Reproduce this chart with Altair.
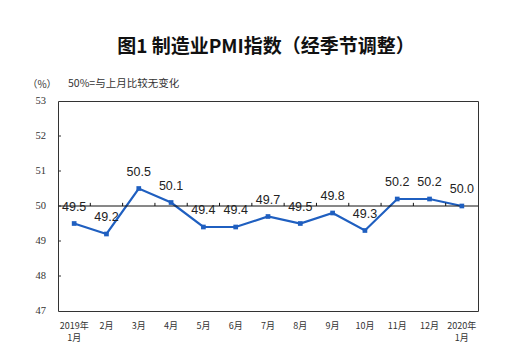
import altair as alt
import pandas as pd

months = ["2019年|1月", "2月", "3月", "4月", "5月", "6月", "7月", "8月", "9月",
          "10月", "11月", "12月", "2020年|1月"]
pmi = [49.5, 49.2, 50.5, 50.1, 49.4, 49.4, 49.7, 49.5, 49.8, 49.3, 50.2, 50.2, 50.0]
y_ticks = [47, 48, 49, 50, 51, 52, 53]
title_text = "图1  制造业PMI指数（经季节调整）"
unit_text = "（%）"
note_text = "50%=与上月比较无变化"

df = pd.DataFrame({"month": months, "pmi": pmi, "label": [f"{v:.1f}" for v in pmi]})
bound_df = pd.DataFrame({"month": months[1:]})
ytick_df = pd.DataFrame({"pmi": y_ticks[1:-1]})
ylab_df = pd.DataFrame({"pmi": y_ticks, "lab": [str(v) for v in y_ticks]})

W, H = 420, 210
xsc = alt.X("month:N", sort=months, scale=alt.Scale(domain=months, paddingInner=0, paddingOuter=0),
            axis=alt.Axis(title=None, labelAngle=0, ticks=False, domain=False,
                          labelExpr="split(datum.label, '|')", labelFont="Noto Sans CJK SC",
                          labelFontSize=9, labelColor="#333", labelPadding=10,
                          labelLineHeight=12))
xs = alt.X("month:N", sort=months)
ysc = alt.Y("pmi:Q", scale=alt.Scale(domain=[47, 53], nice=False, zero=False),
            axis=alt.Axis(title=None, grid=False, ticks=False, domain=False, labels=False))

base = alt.Chart(df)

line = base.mark_line(color="#1f5fc0", strokeWidth=2.2).encode(x=xsc, y=ysc)
pts = base.mark_square(color="#1f5fc0", size=22, opacity=1).encode(x=xs, y="pmi:Q")
labels = base.mark_text(dy=-17, font="Liberation Sans", fontSize=12.5, color="#222").encode(
    x=xs, y="pmi:Q", text="label:N")

ref = alt.Chart(pd.DataFrame({"pmi": [50]})).mark_rule(color="#111", strokeWidth=1).encode(
    y=alt.Y("pmi:Q"))

bticks = alt.Chart(bound_df).mark_rule(color="#111", strokeWidth=1).encode(
    x=alt.X("month:N", sort=months, bandPosition=0),
    y=alt.datum(50), y2=alt.datum(50.09))

yticks = alt.Chart(ytick_df).mark_rule(color="#333", strokeWidth=1).encode(
    y=alt.Y("pmi:Q"), x=alt.value(0), x2=alt.value(3))

ylabels = alt.Chart(ylab_df).mark_text(
    font="Liberation Serif", fontSize=10.5, color="#333", align="right", baseline="middle").encode(
    y=alt.Y("pmi:Q"), x=alt.value(-12), text="lab:N")

title = alt.Chart(pd.DataFrame({"t": [title_text]})).mark_text(
    font="Noto Sans CJK SC", fontSize=19, fontWeight="bold", color="#111",
    align="center", baseline="middle").encode(text="t:N", x=alt.value(W / 2 - 2), y=alt.value(-54))
unit = alt.Chart(pd.DataFrame({"t": [unit_text]})).mark_text(
    font="Noto Sans CJK SC", fontSize=10, color="#333", align="center",
    baseline="middle").encode(text="t:N", x=alt.value(-16), y=alt.value(-16))
note = alt.Chart(pd.DataFrame({"t": [note_text]})).mark_text(
    font="Noto Sans CJK SC", fontSize=10.5, color="#333", align="left",
    baseline="middle").encode(text="t:N", x=alt.value(10), y=alt.value(-17))

chart = alt.layer(line, ref, bticks, yticks, ylabels, pts, labels, title, unit, note).properties(
    width=W, height=H,
    background="white",
    autosize=alt.AutoSizeParams(type="none"),
    padding={"left": 50, "top": 93, "right": 33, "bottom": 44},
).configure_view(stroke="#333", strokeWidth=1).configure_axisY(
    labels=False, ticks=False, domain=False, grid=False, title=None)

chart.save("out.html", embed_options={"renderer": "svg", "actions": False})
